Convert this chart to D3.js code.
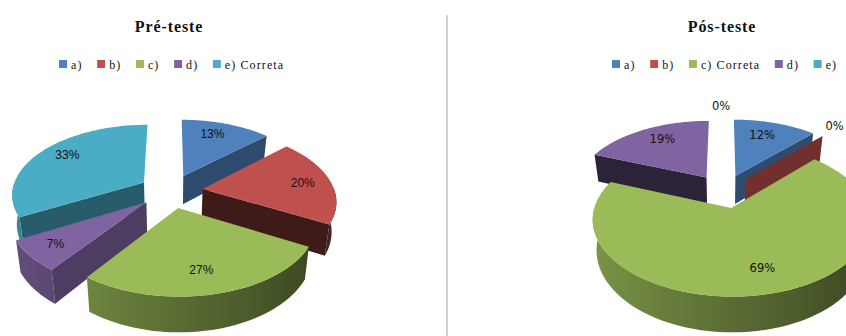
<!DOCTYPE html>
<html>
<head>
<meta charset="utf-8">
<script src="https://cdn.jsdelivr.net/npm/d3@7/dist/d3.min.js"></script>
<style>
  html, body { margin: 0; padding: 0; background: #fff; overflow: hidden; }
  svg { display: block; }
  .title { font: bold 16px "Liberation Serif", serif; letter-spacing: 0.9px; text-anchor: middle; fill: #111; }
  .legend { font: 12px "Liberation Serif", serif; letter-spacing: 1.1px; fill: #111; }
  .pct { fill: #111; text-anchor: middle; dominant-baseline: middle; }
  .pre .pct { font: 12px "Liberation Sans", sans-serif; }
  .pos .pct { font: 11.5px "DejaVu Sans", sans-serif; }
</style>
</head>
<body>
<svg id="chart" width="846" height="336"></svg>
<script>
// Answer shares per question option, before and after the course
const categoriesPre = ["a)", "b)", "c)", "d)", "e) Correta"];
const valuesPre = [13, 20, 27, 7, 33];
const categoriesPos = ["a)", "b)", "c) Correta", "d)", "e)"];
const valuesPos = [12, 0, 69, 19, 0];
const palette = ["#4F81BD", "#C0504D", "#9BBB59", "#8064A2", "#4BACC6"];

// Per-slice adjustment of the percentage labels, in pixels
const labelNudgePre = [[-3, -2], [8, 1], [-2, 4], [-10, 5], [-2, -3.5]];
const labelNudgePos = [[-3, -1], [32, -21], [6, 2], [2, -2], [-3, -26]];

const svg = d3.select("#chart");
const defs = svg.append("defs");

// Shared perspective settings of the exploded 3D pies
const RADIUS = 132, EXPLODE = 32, TILT = 0.524, DEPTH = 29, VIEW = 860, TAPER = 0.001;
const pie = d3.pie().sort(null).value(d => d);
const pathOf = d3.line();

svg.append("line")
  .attr("x1", 447).attr("x2", 447).attr("y1", 15).attr("y2", 336)
  .attr("stroke", "#b4b4b4").attr("stroke-width", 1.2);

function shadeColor(hex, f) {
  const c = d3.rgb(hex);
  return d3.rgb(c.r * f, c.g * f, c.b * f).formatHex();
}

function drawPie(id, title, titleX, legendX, cats, vals, nudges, cx, cy) {
  const g = svg.append("g").attr("class", id);

  g.append("text").attr("class", "title").attr("x", titleX).attr("y", 32).text(title);

  // Legend entries laid out from their measured text widths
  let lx = legendX;
  cats.forEach((name, i) => {
    g.append("rect").attr("x", lx).attr("y", 60).attr("width", 8).attr("height", 8).attr("fill", palette[i]);
    const t = g.append("text").attr("class", "legend").attr("x", lx + 12).attr("y", 69).text(name);
    lx += 12 + t.node().getComputedTextLength() + 14.6;
  });

  // The lower edge of the pie narrows slightly towards the centre line
  const project = (X, Y, Z) => {
    const s = 1 / (1 - Y / VIEW);
    return [cx + X * s * (1 - Z * TAPER), cy + (Y * TILT + Z) * s];
  };

  const arcs = pie(vals).map((a, i) => {
    const mid = (a.startAngle + a.endAngle) / 2;
    return { ...a, i, mid, ox: EXPLODE * Math.sin(mid), oy: -EXPLODE * Math.cos(mid) };
  });

  // Farthest slices are painted first
  const order = arcs.slice().sort((p, q) => p.oy - q.oy);

  order.forEach(a => {
    const color = palette[a.i];
    const rim = (t, r, z) => project(a.ox + r * Math.sin(t), a.oy - r * Math.cos(t), z);

    const cutFace = (t, nx) => {
      g.append("path")
        .attr("d", pathOf([rim(t, 0, 0), rim(t, RADIUS, 0), rim(t, RADIUS, DEPTH), rim(t, 0, DEPTH)]) + "Z")
        .attr("fill", shadeColor(color, 0.43 + 0.22 * nx));
    };
    // Each straight cut shows only when it turns towards the viewer
    if (Math.sin(a.startAngle) < -1e-6) cutFace(a.startAngle, -Math.cos(a.startAngle));
    if (Math.sin(a.endAngle) > 1e-6) cutFace(a.endAngle, Math.cos(a.endAngle));

    // Curved outer wall, limited to the front half of the circle
    const t0 = Math.max(a.startAngle, Math.PI / 2), t1 = Math.min(a.endAngle, 3 * Math.PI / 2);
    if (t1 > t0) {
      const ts = d3.range(0, 61).map(k => t0 + (t1 - t0) * k / 60);
      const top = ts.map(t => rim(t, RADIUS, 0));
      const bottom = ts.map(t => rim(t, RADIUS, DEPTH)).reverse();
      const xs = top.map(p => p[0]);
      const x1 = d3.min(xs), x2 = d3.max(xs);
      const gid = `${id}-wall-${a.i}`;
      const grad = defs.append("linearGradient").attr("id", gid)
        .attr("gradientUnits", "userSpaceOnUse")
        .attr("x1", x1).attr("x2", x2).attr("y1", 0).attr("y2", 0);
      ts.filter((_, k) => k % 5 === 0)
        .map(t => ({ off: (rim(t, RADIUS, 0)[0] - x1) / Math.max(x2 - x1, 1), f: 0.58 - 0.22 * Math.sin(t) }))
        .sort((p, q) => p.off - q.off)
        .forEach(s => grad.append("stop").attr("offset", s.off).attr("stop-color", shadeColor(color, s.f)));
      g.append("path").attr("d", pathOf(top.concat(bottom)) + "Z").attr("fill", `url(#${gid})`);
    }

    // Top face
    if (a.endAngle > a.startAngle) {
      const pts = d3.range(0, 81).map(k => rim(a.startAngle + (a.endAngle - a.startAngle) * k / 80, RADIUS, 0));
      g.append("path").attr("d", pathOf([rim(a.startAngle, 0, 0), ...pts]) + "Z").attr("fill", color);
    }
  });

  // Percentage labels sit above all slices
  arcs.forEach(a => {
    const r = RADIUS * 0.72;
    const p = project(a.ox + r * Math.sin(a.mid), a.oy - r * Math.cos(a.mid), 0);
    g.append("text").attr("class", "pct")
      .attr("x", p[0] + nudges[a.i][0]).attr("y", p[1] + nudges[a.i][1])
      .text(vals[a.i] + "%");
  });
}

drawPie("pre", "Pré-teste", 169, 59, categoriesPre, valuesPre, labelNudgePre, 171, 191);
drawPie("pos", "Pós-teste", 722, 612, categoriesPos, valuesPos, labelNudgePos, 724, 191);
</script>
</body>
</html>
